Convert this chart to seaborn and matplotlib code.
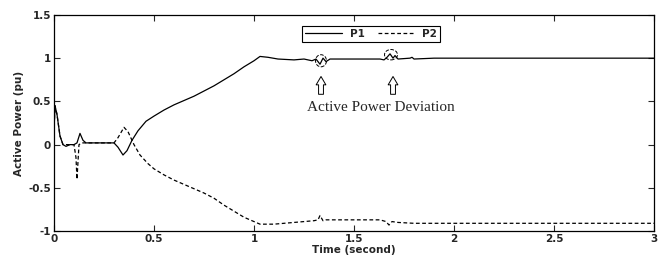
import numpy as np
import pandas as pd
import matplotlib
matplotlib.use('Agg')
import matplotlib.pyplot as plt
import seaborn as sns
from matplotlib.patches import Ellipse

t1 = [0.0, 0.005, 0.015, 0.03, 0.045, 0.06, 0.08, 0.10, 0.115, 0.13, 0.145, 0.16, 0.20, 0.25,
      0.30, 0.32, 0.345, 0.365, 0.39, 0.42, 0.46, 0.50, 0.55, 0.60, 0.65, 0.70, 0.75, 0.80,
      0.85, 0.90, 0.95, 1.00, 1.03, 1.07, 1.12, 1.20, 1.25, 1.29, 1.31, 1.33, 1.345, 1.36,
      1.38, 1.45, 1.55, 1.63, 1.65, 1.665, 1.68, 1.695, 1.705, 1.72, 1.78, 1.79, 1.80, 1.9,
      2.0, 3.0]
p1 = [0.15, 0.45, 0.35, 0.10, 0.0, -0.02, 0.0, 0.0, 0.02, 0.13, 0.05, 0.02, 0.02, 0.02,
      0.02, -0.03, -0.12, -0.07, 0.05, 0.16, 0.27, 0.33, 0.40, 0.46, 0.51, 0.56, 0.62, 0.68,
      0.75, 0.82, 0.90, 0.97, 1.02, 1.01, 0.99, 0.98, 0.99, 0.97, 0.99, 0.93, 1.0, 0.96,
      0.99, 0.99, 0.99, 0.99, 0.98, 1.01, 1.05, 1.0, 1.03, 0.99, 1.0, 1.01, 0.99, 1.0,
      1.0, 1.0]

t2 = [0.0, 0.005, 0.015, 0.03, 0.045, 0.10, 0.11, 0.115, 0.12, 0.125, 0.14, 0.20, 0.30,
      0.32, 0.35, 0.37, 0.40, 0.43, 0.47, 0.50, 0.55, 0.60, 0.65, 0.70, 0.75, 0.80, 0.85,
      0.90, 0.95, 1.00, 1.03, 1.10, 1.20, 1.30, 1.32, 1.33, 1.345, 1.36, 1.45, 1.55, 1.63,
      1.66, 1.675, 1.69, 1.72, 1.80, 2.0, 3.0]
p2 = [0.15, 0.45, 0.35, 0.10, 0.0, 0.0, -0.15, -0.40, -0.20, 0.0, 0.02, 0.02, 0.02,
      0.08, 0.20, 0.15, 0.0, -0.12, -0.22, -0.28, -0.35, -0.41, -0.46, -0.51, -0.56, -0.62, -0.70,
      -0.77, -0.84, -0.89, -0.92, -0.92, -0.90, -0.88, -0.87, -0.82, -0.88, -0.87, -0.87, -0.87, -0.87,
      -0.89, -0.93, -0.89, -0.90, -0.91, -0.91, -0.91]

sns.set_style('ticks')
plt.rcParams['font.family'] = ['DejaVu Sans']

fig = plt.figure(figsize=(6.64, 2.62), dpi=100)
ax = fig.add_axes([0.0813, 0.118, 0.9037, 0.825])

sns.lineplot(x=t1, y=p1, ax=ax, sort=False, color='black', lw=0.9, label='P1')
sns.lineplot(x=t2, y=p2, ax=ax, sort=False, color='black', lw=0.9, label='P2',
             dashes=False)
ax.lines[-1].set_dashes((3, 2))

ax.set_xlim(0, 3)
ax.set_ylim(-1, 1.5)
ax.set_xticks([0, 0.5, 1, 1.5, 2, 2.5, 3])
ax.set_xticklabels(['0', '0.5', '1', '1.5', '2', '2.5', '3'])
ax.set_yticks([-1, -0.5, 0, 0.5, 1, 1.5])
ax.set_yticklabels(['-1', '-0.5', '0', '0.5', '1', '1.5'])
ax.tick_params(direction='in', top=True, right=True, length=4, width=0.8,
               labelsize=7.5, pad=2)
for lab in ax.get_xticklabels() + ax.get_yticklabels():
    lab.set_fontweight('bold')
for s in ax.spines.values():
    s.set_visible(True)
    s.set_linewidth(0.9)
    s.set_color('black')

ax.set_xlabel('Time (second)', fontsize=7.5, fontweight='bold', labelpad=1)
ax.set_ylabel('Active Power (pu)', fontsize=7.5, fontweight='bold', labelpad=3)

leg = ax.legend(loc='upper left', bbox_to_anchor=(0.405, 0.975), ncol=2, fancybox=False,
                edgecolor='black', framealpha=1, handlelength=3.5, columnspacing=1.2,
                borderpad=0.3, prop={'size': 7.5, 'weight': 'bold'})
leg.get_frame().set_linewidth(0.8)
leg.get_lines()[1].set_dashes((3, 2))

# dashed circles and arrows marking the deviations
ax.add_patch(Ellipse((1.335, 0.97), 0.055, 0.14, fill=False, ls='--', lw=0.7, ec='black'))
ax.add_patch(Ellipse((1.685, 1.04), 0.065, 0.12, fill=False, ls='--', lw=0.7, ec='black'))
for xa in [1.335, 1.695]:
    ax.annotate('', xy=(xa, 0.82), xytext=(xa, 0.55),
                arrowprops=dict(arrowstyle='simple,head_width=0.7,head_length=0.6,tail_width=0.35',
                                fc='white', ec='black', lw=0.7))
ax.text(1.635, 0.43, 'Active Power Deviation', ha='center', va='center', fontsize=11,
        family=['Liberation Serif'])

fig.savefig('out.png', dpi=100)
